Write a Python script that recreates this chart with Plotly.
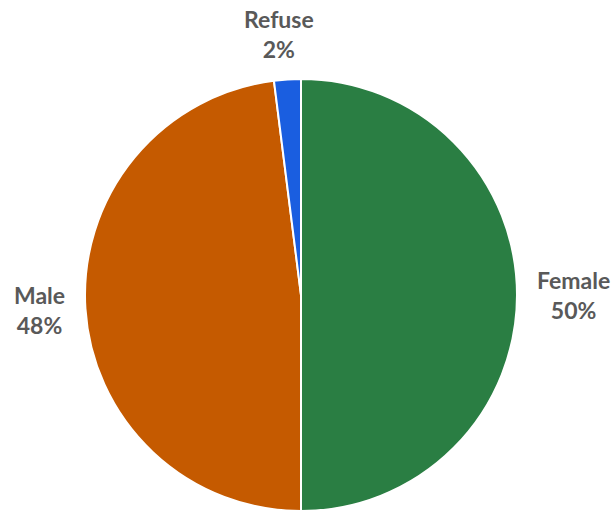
import math
import plotly.graph_objects as go

labels = ["Female", "Male", "Refuse"]
values = [50, 48, 2]
colors = ["#2a7e43", "#c55a00", "#1a5ee0"]

W, H = 615, 512
cx, cy, r = 301, 295, 216
gap = 18

fig = go.Figure(go.Pie(
    labels=labels,
    values=values,
    sort=False,
    direction="clockwise",
    rotation=0,
    marker=dict(colors=colors, line=dict(color="white", width=2)),
    textinfo="none",
    showlegend=False,
    hoverinfo="label+percent",
    domain=dict(x=[(cx - r) / W, (cx + r) / W], y=[1 - (cy + r) / H, 1 - (cy - r) / H]),
))

# outside labels placed at each slice's mid-angle (computed from the values)
total = sum(values)
cum = 0
annotations = []
for lab, v in zip(labels, values):
    mid = (cum + v / 2) / total * 2 * math.pi
    cum += v
    sx, cy_up = math.sin(mid), math.cos(mid)
    d = r + gap
    px = cx + d * sx
    py = cy - d * cy_up
    xa = "left" if sx > 0.3 else ("right" if sx < -0.3 else "center")
    ya = "bottom" if cy_up > 0.3 else ("top" if cy_up < -0.3 else "middle")
    xs, ys = (-7, -4) if xa == "center" else (0, 0)
    pct = round(v / total * 100)
    annotations.append(dict(
        x=px / W, y=1 - py / H, xref="paper", yref="paper",
        xanchor=xa, yanchor=ya, xshift=xs, yshift=ys,
        showarrow=False, align="center",
        text=f"<b>{lab}</b><br><b>{pct}%</b>",
        font=dict(family="Lato", size=23, color="#595959"),
    ))

fig.update_layout(
    width=W, height=H,
    margin=dict(l=0, r=0, t=0, b=0),
    paper_bgcolor="white",
    plot_bgcolor="white",
    annotations=annotations,
)

fig.write_html("out.html")
